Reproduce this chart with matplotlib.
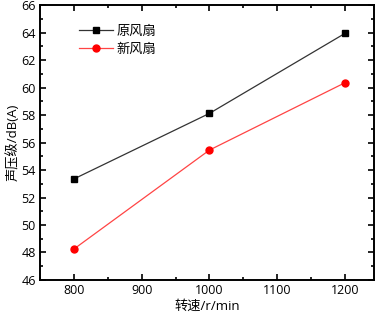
import matplotlib
matplotlib.use('Agg')
import matplotlib.pyplot as plt
from matplotlib.ticker import MultipleLocator

plt.rcParams['font.family'] = ['Open Sans', 'Noto Sans CJK SC']

# 数据
speed = [800, 1000, 1200]
old_fan = [53.35, 58.12, 63.94]
new_fan = [48.25, 55.45, 60.35]

fig = plt.figure(figsize=(3.79, 3.19), dpi=100)
ax = fig.add_axes([0.1055, 0.1223, 0.8815, 0.8617])

ax.plot(speed, old_fan, color='#333333', lw=0.9, marker='s', ms=4.5,
        mfc='black', mec='black', label='原风扇')
ax.plot(speed, new_fan, color='#ff4444', lw=0.9, marker='o', ms=5,
        mfc='red', mec='red', label='新风扇')

ax.set_xlim(750, 1243)
ax.set_ylim(46, 66)
ax.xaxis.set_major_locator(MultipleLocator(100))
ax.xaxis.set_minor_locator(MultipleLocator(50))
ax.yaxis.set_major_locator(MultipleLocator(2))
ax.yaxis.set_minor_locator(MultipleLocator(1))
ax.tick_params(which='both', direction='in', top=True, right=True,
               labelsize=9, width=1.2, pad=3)
ax.tick_params(which='major', length=4)
ax.tick_params(which='minor', length=2)
for s in ax.spines.values():
    s.set_linewidth(1.4)

ax.set_xlabel('转速/r/min', fontsize=9.5, labelpad=2)
ax.set_ylabel('声压级/dB(A)', fontsize=9.5, labelpad=1)

ax.legend(loc='upper left', bbox_to_anchor=(0.08, 0.972), frameon=False,
          fontsize=9.5, handlelength=2.6, handletextpad=0.3, labelspacing=0.4)

fig.savefig('out.png', dpi=100)
